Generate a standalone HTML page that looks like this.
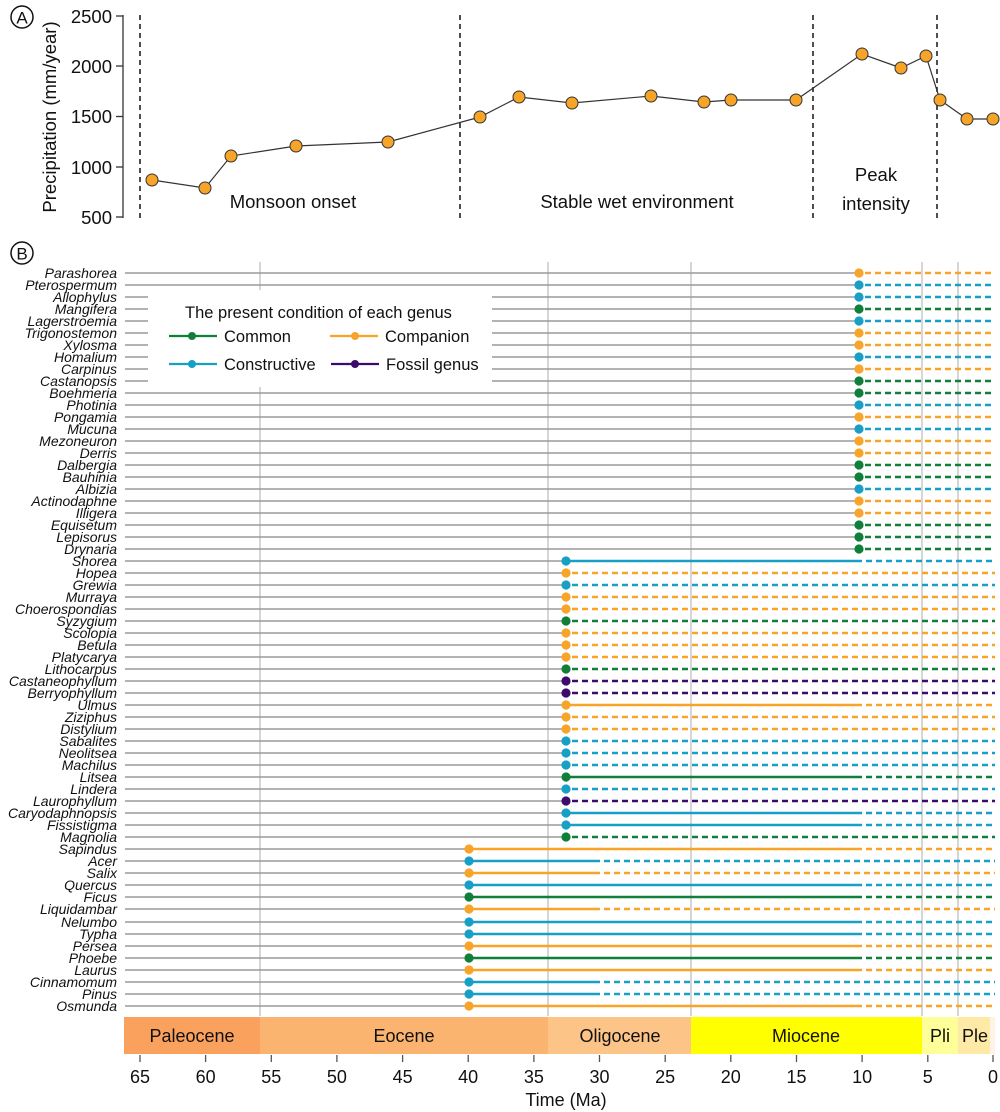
<!DOCTYPE html>
<html><head><meta charset="utf-8"><style>
body{margin:0;background:#fff}
svg{display:block}
text{font-family:"Liberation Sans",sans-serif;fill:#111}
.n{font-size:14px;font-style:italic;text-anchor:end}
.gl{stroke:#9a9a9a;stroke-width:1.4}
.d{stroke-dasharray:6 4}
.G{stroke:#0f7f3a}.O{stroke:#f7a428}.B{stroke:#179fc6}.P{stroke:#3d0a6e}
.s{stroke-width:2.6;fill:none}
</style></head><body>
<svg width="1000" height="1112" viewBox="0 0 1000 1112" xmlns="http://www.w3.org/2000/svg">
<!-- Panel A -->
<circle cx="22" cy="17" r="11" fill="none" stroke="#111" stroke-width="1.5"/>
<text x="22" y="23.5" font-size="17" text-anchor="middle">A</text>
<line x1="123" y1="15" x2="123" y2="218" stroke="#333" stroke-width="1.3"/>
<g stroke="#333" stroke-width="1.3">
<line x1="116" y1="16" x2="123" y2="16"/><line x1="116" y1="66" x2="123" y2="66"/><line x1="116" y1="116.5" x2="123" y2="116.5"/><line x1="116" y1="167" x2="123" y2="167"/><line x1="116" y1="217" x2="123" y2="217"/>
</g>
<g font-size="18.5" text-anchor="end">
<text x="112" y="23">2500</text><text x="112" y="73">2000</text><text x="112" y="123">1500</text><text x="112" y="174">1000</text><text x="112" y="224">500</text>
</g>
<text transform="translate(56,117) rotate(-90)" font-size="18.5" text-anchor="middle">Precipitation (mm/year)</text>
<g stroke="#222" stroke-width="1.6" stroke-dasharray="5 4">
<line x1="140" y1="15" x2="140" y2="218"/><line x1="460" y1="15" x2="460" y2="218"/><line x1="813" y1="15" x2="813" y2="218"/><line x1="937" y1="15" x2="937" y2="218"/>
</g>
<polyline fill="none" stroke="#333" stroke-width="1.2" points="152,180 205,188 231,156 296,146 388,142 480,117 519,97 572,103 651,96 704,102 731,100 796,100 862,54 901,68 926,56 940,100 967,119 993,119"/>
<g fill="#f7a428" stroke="#333" stroke-width="1">
<circle cx="152" cy="180" r="6"/><circle cx="205" cy="188" r="6"/><circle cx="231" cy="156" r="6"/><circle cx="296" cy="146" r="6"/><circle cx="388" cy="142" r="6"/><circle cx="480" cy="117" r="6"/><circle cx="519" cy="97" r="6"/><circle cx="572" cy="103" r="6"/><circle cx="651" cy="96" r="6"/><circle cx="704" cy="102" r="6"/><circle cx="731" cy="100" r="6"/><circle cx="796" cy="100" r="6"/><circle cx="862" cy="54" r="6"/><circle cx="901" cy="68" r="6"/><circle cx="926" cy="56" r="6"/><circle cx="940" cy="100" r="6"/><circle cx="967" cy="119" r="6"/><circle cx="993" cy="119" r="6"/>
</g>
<g font-size="18.5" text-anchor="middle">
<text x="293" y="208">Monsoon onset</text><text x="637" y="208">Stable wet environment</text><text x="876" y="181">Peak</text><text x="876" y="210">intensity</text>
</g>

<!-- Panel B -->
<circle cx="22" cy="253" r="11" fill="none" stroke="#111" stroke-width="1.5"/>
<text x="22" y="259.5" font-size="17" text-anchor="middle">B</text>
<g stroke="#bbb" stroke-width="1.2">
<line x1="260" y1="262" x2="260" y2="1016"/><line x1="548" y1="262" x2="548" y2="1016"/><line x1="691" y1="262" x2="691" y2="1016"/><line x1="922" y1="262" x2="922" y2="1016"/><line x1="958" y1="262" x2="958" y2="1016"/>
</g>

<g class="gl">
<line x1="125" y1="273" x2="859" y2="273"/><line x1="125" y1="285" x2="859" y2="285"/><line x1="125" y1="297" x2="859" y2="297"/><line x1="125" y1="309" x2="859" y2="309"/><line x1="125" y1="321" x2="859" y2="321"/><line x1="125" y1="333" x2="859" y2="333"/><line x1="125" y1="345" x2="859" y2="345"/><line x1="125" y1="357" x2="859" y2="357"/><line x1="125" y1="369" x2="859" y2="369"/><line x1="125" y1="381" x2="859" y2="381"/><line x1="125" y1="393" x2="859" y2="393"/><line x1="125" y1="405" x2="859" y2="405"/><line x1="125" y1="417" x2="859" y2="417"/><line x1="125" y1="429" x2="859" y2="429"/><line x1="125" y1="441" x2="859" y2="441"/><line x1="125" y1="453" x2="859" y2="453"/><line x1="125" y1="465" x2="859" y2="465"/><line x1="125" y1="477" x2="859" y2="477"/><line x1="125" y1="489" x2="859" y2="489"/><line x1="125" y1="501" x2="859" y2="501"/><line x1="125" y1="513" x2="859" y2="513"/><line x1="125" y1="525" x2="859" y2="525"/><line x1="125" y1="537" x2="859" y2="537"/><line x1="125" y1="549" x2="859" y2="549"/>
<line x1="125" y1="561" x2="566" y2="561"/><line x1="125" y1="573" x2="566" y2="573"/><line x1="125" y1="585" x2="566" y2="585"/><line x1="125" y1="597" x2="566" y2="597"/><line x1="125" y1="609" x2="566" y2="609"/><line x1="125" y1="621" x2="566" y2="621"/><line x1="125" y1="633" x2="566" y2="633"/><line x1="125" y1="645" x2="566" y2="645"/><line x1="125" y1="657" x2="566" y2="657"/><line x1="125" y1="669" x2="566" y2="669"/><line x1="125" y1="681" x2="566" y2="681"/><line x1="125" y1="693" x2="566" y2="693"/><line x1="125" y1="705" x2="566" y2="705"/><line x1="125" y1="717" x2="566" y2="717"/><line x1="125" y1="729" x2="566" y2="729"/><line x1="125" y1="741" x2="566" y2="741"/><line x1="125" y1="753" x2="566" y2="753"/><line x1="125" y1="765" x2="566" y2="765"/><line x1="125" y1="777" x2="566" y2="777"/><line x1="125" y1="789" x2="566" y2="789"/><line x1="125" y1="801" x2="566" y2="801"/><line x1="125" y1="813" x2="566" y2="813"/><line x1="125" y1="825" x2="566" y2="825"/><line x1="125" y1="837" x2="566" y2="837"/>
<line x1="125" y1="849" x2="469" y2="849"/><line x1="125" y1="861" x2="469" y2="861"/><line x1="125" y1="873" x2="469" y2="873"/><line x1="125" y1="885" x2="469" y2="885"/><line x1="125" y1="897" x2="469" y2="897"/><line x1="125" y1="909" x2="469" y2="909"/><line x1="125" y1="922" x2="469" y2="922"/><line x1="125" y1="934" x2="469" y2="934"/><line x1="125" y1="946" x2="469" y2="946"/><line x1="125" y1="958" x2="469" y2="958"/><line x1="125" y1="970" x2="469" y2="970"/><line x1="125" y1="982" x2="469" y2="982"/><line x1="125" y1="994" x2="469" y2="994"/><line x1="125" y1="1006" x2="469" y2="1006"/>
</g>

<g class="s">
<line class="O d" x1="865" y1="273" x2="995" y2="273"/><line class="B d" x1="865" y1="285" x2="995" y2="285"/><line class="B d" x1="865" y1="297" x2="995" y2="297"/><line class="G d" x1="865" y1="309" x2="995" y2="309"/><line class="B d" x1="865" y1="321" x2="995" y2="321"/><line class="O d" x1="865" y1="333" x2="995" y2="333"/><line class="O d" x1="865" y1="345" x2="995" y2="345"/><line class="B d" x1="865" y1="357" x2="995" y2="357"/><line class="O d" x1="865" y1="369" x2="995" y2="369"/><line class="G d" x1="865" y1="381" x2="995" y2="381"/><line class="G d" x1="865" y1="393" x2="995" y2="393"/><line class="B d" x1="865" y1="405" x2="995" y2="405"/><line class="O d" x1="865" y1="417" x2="995" y2="417"/><line class="B d" x1="865" y1="429" x2="995" y2="429"/><line class="O d" x1="865" y1="441" x2="995" y2="441"/><line class="O d" x1="865" y1="453" x2="995" y2="453"/><line class="G d" x1="865" y1="465" x2="995" y2="465"/><line class="G d" x1="865" y1="477" x2="995" y2="477"/><line class="B d" x1="865" y1="489" x2="995" y2="489"/><line class="O d" x1="865" y1="501" x2="995" y2="501"/><line class="O d" x1="865" y1="513" x2="995" y2="513"/><line class="G d" x1="865" y1="525" x2="995" y2="525"/><line class="G d" x1="865" y1="537" x2="995" y2="537"/><line class="G d" x1="865" y1="549" x2="995" y2="549"/>
<line class="B" x1="566" y1="561" x2="862" y2="561"/><line class="B d" x1="866" y1="561" x2="995" y2="561"/>
<line class="O d" x1="572" y1="573" x2="995" y2="573"/>
<line class="B d" x1="572" y1="585" x2="995" y2="585"/>
<line class="O d" x1="572" y1="597" x2="995" y2="597"/>
<line class="O d" x1="572" y1="609" x2="995" y2="609"/>
<line class="G d" x1="572" y1="621" x2="995" y2="621"/>
<line class="O d" x1="572" y1="633" x2="995" y2="633"/>
<line class="O d" x1="572" y1="645" x2="995" y2="645"/>
<line class="O d" x1="572" y1="657" x2="995" y2="657"/>
<line class="G d" x1="572" y1="669" x2="995" y2="669"/>
<line class="P d" x1="572" y1="681" x2="995" y2="681"/>
<line class="P d" x1="572" y1="693" x2="995" y2="693"/>
<line class="O" x1="566" y1="705" x2="862" y2="705"/><line class="O d" x1="866" y1="705" x2="995" y2="705"/>
<line class="O d" x1="572" y1="717" x2="995" y2="717"/>
<line class="O d" x1="572" y1="729" x2="995" y2="729"/>
<line class="B d" x1="572" y1="741" x2="995" y2="741"/>
<line class="B d" x1="572" y1="753" x2="995" y2="753"/>
<line class="B d" x1="572" y1="765" x2="995" y2="765"/>
<line class="G" x1="566" y1="777" x2="862" y2="777"/><line class="G d" x1="866" y1="777" x2="995" y2="777"/>
<line class="B d" x1="572" y1="789" x2="995" y2="789"/>
<line class="P d" x1="572" y1="801" x2="995" y2="801"/>
<line class="B" x1="566" y1="813" x2="862" y2="813"/><line class="B d" x1="866" y1="813" x2="995" y2="813"/>
<line class="B" x1="566" y1="825" x2="862" y2="825"/><line class="B d" x1="866" y1="825" x2="995" y2="825"/>
<line class="G d" x1="572" y1="837" x2="995" y2="837"/>
<line class="O" x1="469" y1="849" x2="862" y2="849"/><line class="O d" x1="866" y1="849" x2="995" y2="849"/>
<line class="B" x1="469" y1="861" x2="600" y2="861"/><line class="B d" x1="604" y1="861" x2="995" y2="861"/>
<line class="O" x1="469" y1="873" x2="600" y2="873"/><line class="O d" x1="604" y1="873" x2="995" y2="873"/>
<line class="B" x1="469" y1="885" x2="862" y2="885"/><line class="B d" x1="866" y1="885" x2="995" y2="885"/>
<line class="G" x1="469" y1="897" x2="862" y2="897"/><line class="G d" x1="866" y1="897" x2="995" y2="897"/>
<line class="O" x1="469" y1="909" x2="600" y2="909"/><line class="O d" x1="604" y1="909" x2="995" y2="909"/>
<line class="B" x1="469" y1="922" x2="862" y2="922"/><line class="B d" x1="866" y1="922" x2="995" y2="922"/>
<line class="B" x1="469" y1="934" x2="862" y2="934"/><line class="B d" x1="866" y1="934" x2="995" y2="934"/>
<line class="O" x1="469" y1="946" x2="862" y2="946"/><line class="O d" x1="866" y1="946" x2="995" y2="946"/>
<line class="G" x1="469" y1="958" x2="862" y2="958"/><line class="G d" x1="866" y1="958" x2="995" y2="958"/>
<line class="O" x1="469" y1="970" x2="862" y2="970"/><line class="O d" x1="866" y1="970" x2="995" y2="970"/>
<line class="B" x1="469" y1="982" x2="600" y2="982"/><line class="B d" x1="604" y1="982" x2="995" y2="982"/>
<line class="B" x1="469" y1="994" x2="600" y2="994"/><line class="B d" x1="604" y1="994" x2="995" y2="994"/>
<line class="O" x1="469" y1="1006" x2="862" y2="1006"/><line class="O d" x1="866" y1="1006" x2="995" y2="1006"/>
</g>

<g>
<circle cx="859" cy="273" r="4.6" fill="#f7a428"/><circle cx="859" cy="285" r="4.6" fill="#179fc6"/><circle cx="859" cy="297" r="4.6" fill="#179fc6"/><circle cx="859" cy="309" r="4.6" fill="#0f7f3a"/><circle cx="859" cy="321" r="4.6" fill="#179fc6"/><circle cx="859" cy="333" r="4.6" fill="#f7a428"/><circle cx="859" cy="345" r="4.6" fill="#f7a428"/><circle cx="859" cy="357" r="4.6" fill="#179fc6"/><circle cx="859" cy="369" r="4.6" fill="#f7a428"/><circle cx="859" cy="381" r="4.6" fill="#0f7f3a"/><circle cx="859" cy="393" r="4.6" fill="#0f7f3a"/><circle cx="859" cy="405" r="4.6" fill="#179fc6"/><circle cx="859" cy="417" r="4.6" fill="#f7a428"/><circle cx="859" cy="429" r="4.6" fill="#179fc6"/><circle cx="859" cy="441" r="4.6" fill="#f7a428"/><circle cx="859" cy="453" r="4.6" fill="#f7a428"/><circle cx="859" cy="465" r="4.6" fill="#0f7f3a"/><circle cx="859" cy="477" r="4.6" fill="#0f7f3a"/><circle cx="859" cy="489" r="4.6" fill="#179fc6"/><circle cx="859" cy="501" r="4.6" fill="#f7a428"/><circle cx="859" cy="513" r="4.6" fill="#f7a428"/><circle cx="859" cy="525" r="4.6" fill="#0f7f3a"/><circle cx="859" cy="537" r="4.6" fill="#0f7f3a"/><circle cx="859" cy="549" r="4.6" fill="#0f7f3a"/>
<circle cx="566" cy="561" r="4.6" fill="#179fc6"/><circle cx="566" cy="573" r="4.6" fill="#f7a428"/><circle cx="566" cy="585" r="4.6" fill="#179fc6"/><circle cx="566" cy="597" r="4.6" fill="#f7a428"/><circle cx="566" cy="609" r="4.6" fill="#f7a428"/><circle cx="566" cy="621" r="4.6" fill="#0f7f3a"/><circle cx="566" cy="633" r="4.6" fill="#f7a428"/><circle cx="566" cy="645" r="4.6" fill="#f7a428"/><circle cx="566" cy="657" r="4.6" fill="#f7a428"/><circle cx="566" cy="669" r="4.6" fill="#0f7f3a"/><circle cx="566" cy="681" r="4.6" fill="#3d0a6e"/><circle cx="566" cy="693" r="4.6" fill="#3d0a6e"/><circle cx="566" cy="705" r="4.6" fill="#f7a428"/><circle cx="566" cy="717" r="4.6" fill="#f7a428"/><circle cx="566" cy="729" r="4.6" fill="#f7a428"/><circle cx="566" cy="741" r="4.6" fill="#179fc6"/><circle cx="566" cy="753" r="4.6" fill="#179fc6"/><circle cx="566" cy="765" r="4.6" fill="#179fc6"/><circle cx="566" cy="777" r="4.6" fill="#0f7f3a"/><circle cx="566" cy="789" r="4.6" fill="#179fc6"/><circle cx="566" cy="801" r="4.6" fill="#3d0a6e"/><circle cx="566" cy="813" r="4.6" fill="#179fc6"/><circle cx="566" cy="825" r="4.6" fill="#179fc6"/><circle cx="566" cy="837" r="4.6" fill="#0f7f3a"/>
<circle cx="469" cy="849" r="4.6" fill="#f7a428"/><circle cx="469" cy="861" r="4.6" fill="#179fc6"/><circle cx="469" cy="873" r="4.6" fill="#f7a428"/><circle cx="469" cy="885" r="4.6" fill="#179fc6"/><circle cx="469" cy="897" r="4.6" fill="#0f7f3a"/><circle cx="469" cy="909" r="4.6" fill="#f7a428"/><circle cx="469" cy="922" r="4.6" fill="#179fc6"/><circle cx="469" cy="934" r="4.6" fill="#179fc6"/><circle cx="469" cy="946" r="4.6" fill="#f7a428"/><circle cx="469" cy="958" r="4.6" fill="#0f7f3a"/><circle cx="469" cy="970" r="4.6" fill="#f7a428"/><circle cx="469" cy="982" r="4.6" fill="#179fc6"/><circle cx="469" cy="994" r="4.6" fill="#179fc6"/><circle cx="469" cy="1006" r="4.6" fill="#f7a428"/>
</g>

<rect x="148" y="290" width="344" height="97" fill="#fff"/>
<text x="185" y="318" font-size="16.5">The present condition of each genus</text>
<g stroke-width="2.2">
<line x1="169" y1="336" x2="217" y2="336" stroke="#0f7f3a"/><line x1="330" y1="336" x2="378" y2="336" stroke="#f7a428"/>
<line x1="169" y1="364" x2="217" y2="364" stroke="#179fc6"/><line x1="331" y1="364" x2="379" y2="364" stroke="#3d0a6e"/>
</g>
<circle cx="192" cy="336" r="4" fill="#0f7f3a"/><circle cx="355" cy="336" r="4" fill="#f7a428"/><circle cx="192" cy="364" r="4" fill="#179fc6"/><circle cx="355" cy="364" r="4" fill="#3d0a6e"/>
<g font-size="16.5"><text x="224" y="342">Common</text><text x="385" y="342">Companion</text><text x="224" y="370">Constructive</text><text x="386" y="370">Fossil genus</text></g>

<g class="n">
<text x="117" y="278">Parashorea</text><text x="117" y="290">Pterospermum</text><text x="117" y="302">Allophylus</text><text x="117" y="314">Mangifera</text><text x="117" y="326">Lagerstroemia</text><text x="117" y="338">Trigonostemon</text><text x="117" y="350">Xylosma</text><text x="117" y="362">Homalium</text><text x="117" y="374">Carpinus</text><text x="117" y="386">Castanopsis</text><text x="117" y="398">Boehmeria</text><text x="117" y="410">Photinia</text><text x="117" y="422">Pongamia</text><text x="117" y="434">Mucuna</text><text x="117" y="446">Mezoneuron</text><text x="117" y="458">Derris</text><text x="117" y="470">Dalbergia</text><text x="117" y="482">Bauhinia</text><text x="117" y="494">Albizia</text><text x="117" y="506">Actinodaphne</text><text x="117" y="518">Illigera</text><text x="117" y="530">Equisetum</text><text x="117" y="542">Lepisorus</text><text x="117" y="554">Drynaria</text>
<text x="117" y="566">Shorea</text><text x="117" y="578">Hopea</text><text x="117" y="590">Grewia</text><text x="117" y="602">Murraya</text><text x="117" y="614">Choerospondias</text><text x="117" y="626">Syzygium</text><text x="117" y="638">Scolopia</text><text x="117" y="650">Betula</text><text x="117" y="662">Platycarya</text><text x="117" y="674">Lithocarpus</text><text x="117" y="686">Castaneophyllum</text><text x="117" y="698">Berryophyllum</text><text x="117" y="710">Ulmus</text><text x="117" y="722">Ziziphus</text><text x="117" y="734">Distylium</text><text x="117" y="746">Sabalites</text><text x="117" y="758">Neolitsea</text><text x="117" y="770">Machilus</text><text x="117" y="782">Litsea</text><text x="117" y="794">Lindera</text><text x="117" y="806">Laurophyllum</text><text x="117" y="818">Caryodaphnopsis</text><text x="117" y="830">Fissistigma</text><text x="117" y="842">Magnolia</text>
<text x="117" y="854">Sapindus</text><text x="117" y="866">Acer</text><text x="117" y="878">Salix</text><text x="117" y="890">Quercus</text><text x="117" y="902">Ficus</text><text x="117" y="914">Liquidambar</text><text x="117" y="927">Nelumbo</text><text x="117" y="939">Typha</text><text x="117" y="951">Persea</text><text x="117" y="963">Phoebe</text><text x="117" y="975">Laurus</text><text x="117" y="987">Cinnamomum</text><text x="117" y="999">Pinus</text><text x="117" y="1011">Osmunda</text>
</g>

<rect x="124" y="1017" width="136" height="37" fill="#f9a15d"/>
<rect x="260" y="1017" width="288" height="37" fill="#fbb46f"/>
<rect x="548" y="1017" width="143" height="37" fill="#fdc487"/>
<rect x="691" y="1017" width="231" height="37" fill="#ffff00"/>
<rect x="922" y="1017" width="36" height="37" fill="#ffff99"/>
<rect x="958" y="1017" width="32" height="37" fill="#feeaa6"/>
<rect x="990" y="1017" width="5" height="37" fill="#fef3e6"/>
<g font-size="18" text-anchor="middle">
<text x="192" y="1042">Paleocene</text><text x="404" y="1042">Eocene</text><text x="620" y="1042">Oligocene</text><text x="806" y="1042">Miocene</text><text x="940" y="1042">Pli</text><text x="975" y="1042">Ple</text>
</g>
<g stroke="#555" stroke-width="1.3">
<line x1="140" y1="1055" x2="140" y2="1062"/><line x1="205.6" y1="1055" x2="205.6" y2="1062"/><line x1="271.3" y1="1055" x2="271.3" y2="1062"/><line x1="336.9" y1="1055" x2="336.9" y2="1062"/><line x1="402.6" y1="1055" x2="402.6" y2="1062"/><line x1="468.2" y1="1055" x2="468.2" y2="1062"/><line x1="533.9" y1="1055" x2="533.9" y2="1062"/><line x1="599.5" y1="1055" x2="599.5" y2="1062"/><line x1="665.2" y1="1055" x2="665.2" y2="1062"/><line x1="730.8" y1="1055" x2="730.8" y2="1062"/><line x1="796.5" y1="1055" x2="796.5" y2="1062"/><line x1="862.1" y1="1055" x2="862.1" y2="1062"/><line x1="927.8" y1="1055" x2="927.8" y2="1062"/><line x1="993" y1="1055" x2="993" y2="1062"/>
</g>
<g font-size="18" text-anchor="middle">
<text x="140" y="1083">65</text><text x="205.6" y="1083">60</text><text x="271.3" y="1083">55</text><text x="336.9" y="1083">50</text><text x="402.6" y="1083">45</text><text x="468.2" y="1083">40</text><text x="533.9" y="1083">35</text><text x="599.5" y="1083">30</text><text x="665.2" y="1083">25</text><text x="730.8" y="1083">20</text><text x="796.5" y="1083">15</text><text x="862.1" y="1083">10</text><text x="927.8" y="1083">5</text><text x="993" y="1083">0</text>
</g>
<text x="566" y="1106" font-size="18" text-anchor="middle">Time (Ma)</text>
</svg>
</body></html>
